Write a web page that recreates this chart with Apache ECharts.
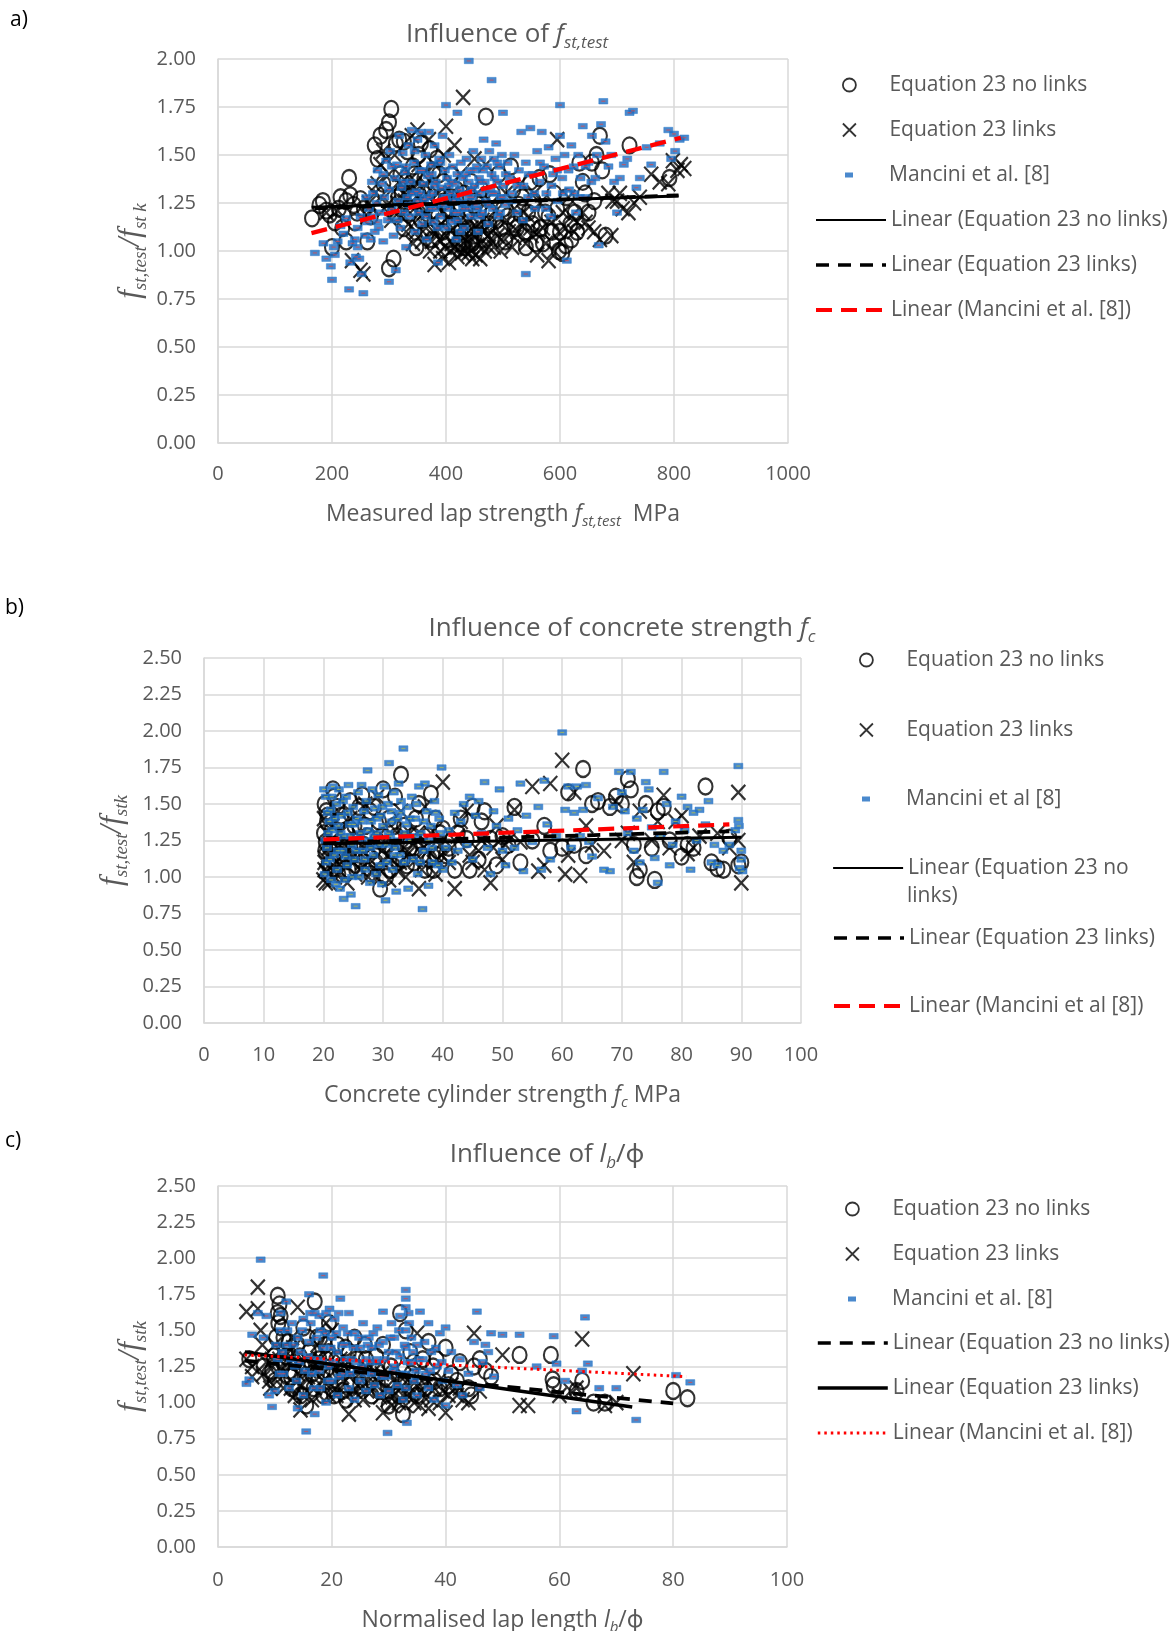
<!DOCTYPE html>
<html><head><meta charset="utf-8">
<script src="https://cdn.jsdelivr.net/npm/echarts@6/dist/echarts.min.js"></script>
<style>html,body{margin:0;padding:0;background:#fff}#c{width:1175px;height:1631px}</style>
</head><body><div id="c"></div>
<script>
// ---------- Panel a: influence of f_st,test ----------
const fstCircles = [[165,1.17],[178,1.24],[184,1.26],[190,1.21],[196,1.19],[200,1.02],[205,1.15],[212,1.22],[218,1.12],[225,1.26],[230,1.38],[232,1.29],[238,1.24],[244,1.20],[250,1.27],[256,1.22],[262,1.05],[268,1.18],[275,1.55],[280,1.48],[285,1.60],[290,1.35],[295,1.63],[300,1.67],[304,1.74],[300,0.91],[308,0.96],[312,1.56],[318,1.58],[322,1.30],[326,1.57],[332,1.52],[338,1.20],[342,1.44],[348,1.02],[352,1.50],[356,1.56],[362,1.38],[368,1.10],[372,1.53],[378,1.42],[384,1.48],[390,1.28],[396,1.36],[402,1.22],[410,1.40],[418,1.32],[426,1.10],[434,1.18],[442,1.28],[450,1.08],[458,1.22],[470,1.70],[476,1.14],[486,1.26],[496,1.12],[508,1.18],[518,1.32],[528,1.24],[538,1.10],[548,1.36],[558,1.04],[566,1.12],[574,1.20],[582,1.40],[590,1.30],[598,1.00],[604,0.99],[610,1.03],[618,1.14],[626,1.20],[634,1.46],[644,1.30],[656,1.46],[664,1.50],[670,1.60],[674,1.42],[680,1.08],[722,1.55],[792,1.38],
[310,1.20],[316,1.28],[326,1.12],[336,1.30],[346,1.26],[356,1.16],[366,1.24],[376,1.06],[386,1.18],[394,1.10],[404,1.06],[414,1.14],[422,1.04],[430,1.02],[438,1.12],[446,1.04],[456,1.16],[466,1.06],[482,1.30],[492,1.40],[504,1.05],[514,1.44],[524,1.12],[534,1.28],[544,1.20],[554,1.26],[564,1.38],[580,1.18],[595,1.22],[612,1.28],[630,1.10],[650,1.20],
[320,1.40],[330,1.36],[345,1.40],[360,1.30],[374,1.32],[388,1.40],[398,1.26],[408,1.28],[420,1.20],[432,1.30],[444,1.36],[452,1.26],[462,1.32],[472,1.20],[488,1.16],[500,1.22],[520,1.14],[540,1.02],[552,1.14],[570,1.04],[586,1.10],[600,1.10],[620,1.06],[640,1.36],[660,1.26],[240,1.15],[225,1.05],[215,1.28]];
const fstCrosses = [[190,1.20],[210,1.21],[235,0.95],[250,0.90],[255,0.88],[265,1.25],[275,1.30],[285,1.45],[290,1.52],[295,1.48],[300,1.40],[305,1.32],[310,1.50],[315,1.25],[320,1.35],[325,1.30],[330,1.22],[335,1.28],[340,1.60],[345,1.33],[350,1.63],[355,1.18],[360,1.25],[365,1.12],[370,1.58],[375,1.05],[380,0.93],[385,1.10],[390,1.00],[395,0.96],[400,1.65],[400,1.08],[405,0.94],[410,1.04],[415,1.55],[420,0.97],[425,1.02],[430,1.80],[435,1.06],[440,0.99],[445,1.12],[450,1.48],[455,1.03],[460,0.96],[465,1.10],[470,1.45],[475,1.02],[480,1.15],[490,1.08],[500,1.05],[510,1.10],[520,1.07],[530,1.14],[540,1.04],[550,1.08],[560,0.98],[570,1.12],[580,0.95],[590,1.00],[595,1.58],[600,1.05],[610,1.12],[620,1.18],[630,1.15],[640,1.20],[650,1.12],[660,1.10],[670,1.06],[690,1.08],[700,1.26],[705,1.30],[710,1.22],[720,1.20],[730,1.25],[740,1.28],[760,1.40],[775,1.36],[790,1.35],[798,1.47],[806,1.42],[812,1.45],[818,1.43],
[322,1.18],[328,1.26],[334,1.14],[338,1.32],[344,1.22],[348,1.10],[352,1.28],[358,1.05],[362,1.20],[366,1.30],[372,1.00],[376,1.16],[382,1.24],[388,1.06],[392,1.14],[398,1.02],[404,1.18],[408,1.00],[412,1.12],[418,1.08],[424,1.15],[428,0.99],[432,1.10],[438,1.04],[444,1.00],[448,1.08],[452,0.98],[458,1.14],[462,1.04],[468,1.00],[472,1.12],[478,1.06],[484,1.02],[300,1.25],[310,1.20],[285,1.28],[270,1.22],[262,1.18],[340,1.38],[360,1.40],[386,1.30],[414,1.28],[436,1.22],[520,1.22],[545,1.18],[555,1.30],[565,1.25],[585,1.15],[615,1.28],[625,1.10],[645,1.15],[685,1.30],[692,1.26],
[330,1.10],[342,1.04],[354,1.12],[368,1.20],[378,1.10],[394,1.20],[402,1.26],[416,1.02],[422,1.20],[426,1.12],[434,1.00],[442,1.16],[446,0.96],[454,1.08],[464,1.16],[474,1.08],[486,1.12],[496,1.00],[506,1.16],[516,1.02],[526,1.10],[536,1.20],[548,1.12],[562,1.10],[575,1.04],[598,1.10],[605,1.20],[280,1.35],[292,1.22],[304,1.16],[318,1.40],[352,1.45],[364,1.35],[380,1.45],[396,1.50],[410,1.30],[425,1.40],[455,1.30],[480,1.25],[505,1.30],[530,1.35]];
const fstMancini = [[170,0.99],[185,1.04],[190,0.96],[198,0.92],[200,0.85],[203,1.02],[205,0.98],[210,1.05],[215,1.13],[220,1.09],[225,1.17],[230,0.80],[232,0.94],[236,1.04],[240,1.06],[242,0.97],[245,1.12],[248,0.96],[252,0.88],[255,0.78],[258,1.08],[262,1.15],[265,1.22],[268,1.06],[270,1.18],[272,1.30],[275,1.10],[278,1.25],[280,1.42],[282,1.12],[285,1.20],[288,1.35],[290,1.05],[292,1.28],[295,1.47],[298,1.16],[300,0.84],[300,1.32],[302,1.52],[305,1.22],[308,1.08],[310,1.38],[312,0.90],[314,1.45],[316,1.26],[318,1.60],[320,1.12],[322,1.33],[324,1.51],[326,1.20],[328,1.41],[330,1.02],[332,1.28],[334,1.55],[336,1.18],[338,1.36],[340,1.63],[342,1.24],[344,1.46],[346,1.10],[348,1.31],[350,1.58],[352,1.20],[354,1.42],[356,1.62],[358,1.14],[360,1.35],[362,1.27],[364,1.50],[366,1.06],[368,1.39],[370,1.62],[372,1.22],[374,1.45],[376,1.30],[378,1.15],[380,1.55],[382,1.36],[384,1.25],[386,0.94],[388,1.48],[390,1.18],[392,1.33],[394,1.60],[396,1.28],[398,1.42],[400,1.76],[400,1.12],[402,1.38],[404,1.22],[406,1.50],[408,1.30],[410,1.15],[412,1.44],[414,1.26],[416,1.35],[418,1.06],[420,1.72],[420,1.40],[422,1.20],[424,1.32],[426,1.46],[428,1.25],[430,1.38],[432,1.12],[434,1.30],[436,1.48],[438,1.22],[440,1.99],[440,1.36],[442,1.42],[444,1.18],[446,1.28],[448,1.52],[450,1.34],[452,1.24],[454,1.44],[456,1.10],[458,1.38],[460,1.30],[462,1.48],[464,1.20],[466,1.58],[468,1.36],[470,1.26],[472,1.44],[474,1.14],[476,1.52],[478,1.32],[480,1.89],[480,1.40],[482,1.22],[484,1.48],[486,1.30],[488,1.56],[490,1.36],[492,1.18],[494,1.44],[496,1.28],[498,1.50],[500,1.72],[500,1.34],[504,1.24],[508,1.46],[512,1.38],[516,1.30],[520,1.50],[524,1.20],[528,1.42],[532,1.62],[536,1.34],[540,0.88],[540,1.46],[544,1.28],[548,1.64],[552,1.40],[556,1.22],[560,1.52],[564,1.36],[568,1.62],[572,1.44],[576,1.30],[580,1.54],[584,1.18],[588,1.40],[592,1.48],[596,1.26],[600,1.76],[600,1.60],[604,1.38],[608,1.50],[612,0.95],[616,1.32],[620,1.55],[624,1.44],[628,1.20],[632,1.50],[636,1.38],[640,1.65],[644,1.28],[650,1.46],[656,1.60],[662,1.38],[668,1.03],[672,1.66],[676,1.78],[680,1.57],[690,1.50],[700,1.20],[705,1.38],[712,1.45],[718,1.48],[722,1.72],[728,1.73],[734,1.33],[740,1.38],[752,1.54],[760,1.45],[775,1.56],[790,1.63],[795,1.48],[800,1.61],[802,1.52],[810,1.58],[818,1.59],
[305,1.44],[315,1.16],[325,1.36],[335,1.24],[345,1.52],[355,1.30],[365,1.18],[375,1.40],[385,1.12],[395,1.24],[405,1.34],[415,1.20],[425,1.10],[435,1.40],[445,1.32],[455,1.22],[465,1.42],[475,1.24],[485,1.38],[495,1.20],[505,1.40],[515,1.26],[525,1.34],[535,1.16],[545,1.40],[555,1.30],[565,1.46],[575,1.22],[585,1.34],[595,1.42],[605,1.30],[615,1.42],[625,1.30],[635,1.28],[645,1.44],[655,1.36],[665,1.50],[685,1.44],[695,1.36],[340,1.30],[350,1.26],[360,1.42],[370,1.28],[380,1.22],[390,1.46],[400,1.28],[410,1.36],[420,1.28],[430,1.22],[440,1.28],[450,1.42],[460,1.36],[470,1.32],[480,1.30],[490,1.46],[500,1.28],[380,1.34],[420,1.16],[460,1.18],[330,1.44],[290,1.40],[280,1.15],[270,1.36],[260,1.28],[250,1.18],[245,1.02]];
const fstTrendNoLinks = [[164,1.228],[808,1.286]];
const fstTrendLinks = [[170,1.222],[808,1.29]];
const fstTrendMancini = [[164,1.093],[812,1.59]];

// ---------- Panel b: influence of concrete strength f_c ----------
const fcCircles = [[20.2,1.50],[20.5,1.45],[20.6,1.38],[21,1.20],[21.2,1.08],[21.6,1.60],[21.8,1.55],[22,1.28],[22.5,1.02],[23,1.42],[23.5,1.12],[24,1.30],[24.5,1.52],[25,1.22],[25.5,1.05],[26,1.48],[26.5,1.56],[27,1.35],[27.5,1.15],[28,1.02],[28.5,1.48],[29,1.25],[29.5,0.92],[30,1.60],[30.5,1.00],[31,1.40],[31.5,1.18],[32,1.55],[32.5,1.10],[33,1.70],[33.5,1.35],[34,1.08],[35,1.28],[36,1.50],[37,1.05],[38,1.57],[39,1.15],[40,1.33],[41,1.20],[42,1.05],[43,1.40],[44,1.26],[45,1.48],[46,1.12],[47,1.45],[48,1.26],[49,1.08],[50,1.28],[51,1.22],[52,1.48],[53,1.10],[55,1.25],[57,1.35],[58,1.18],[60,1.20],[61,1.58],[62,1.22],[63.5,1.74],[64,1.15],[65,1.50],[66,1.52],[68,1.48],[69,1.55],[70,1.50],[71,1.67],[71.5,1.60],[72,1.22],[72.5,1.00],[73,1.05],[74,1.50],[75,1.20],[75.5,0.98],[76,1.45],[77,1.48],[78,1.25],[80,1.14],[81,1.22],[82,1.20],[84,1.62],[85,1.10],[86,1.06],[87,1.05],[88,1.27],[89.5,1.08],[90,1.10],
[20.1,1.30],[20.3,1.18],[20.7,1.42],[21.4,1.32],[22.3,1.48],[22.8,1.15],[23.3,1.22],[24.2,1.05],[25.2,1.35],[25.8,1.45],[26.3,1.12],[27.3,1.28],[28.3,1.18],[29.3,1.38],[30.3,1.22],[31.3,1.05],[32.3,1.28],[33.3,1.12],[34.5,1.20],[35.5,1.40],[36.5,1.15],[37.5,1.28],[38.5,1.05],[39.5,1.30],
[20.4,1.24],[20.9,1.08],[21.7,1.22],[22.6,1.38],[23.8,1.32],[24.8,1.15],[26.8,1.22],[27.8,1.45],[28.8,1.10],[29.8,1.28],[31.8,1.35],[33.8,1.25],[35.2,1.10],[36.2,1.25],[37.8,1.12],[38.8,1.40],[40.5,1.15],[42.5,1.30],[44.5,1.05],[46.5,1.38]];
const fcCrosses = [[20,0.98],[20.2,1.05],[20.5,1.12],[21,0.96],[21.5,1.35],[22,1.18],[22.5,1.45],[23,1.03],[23.5,1.22],[24,0.96],[24.5,1.40],[25,1.10],[26,1.28],[27,1.50],[27.5,1.00],[28,1.20],[29,1.55],[29.5,1.05],[30,1.10],[31,0.98],[32,1.32],[33,1.45],[34,1.15],[35,1.22],[36,0.92],[37,1.48],[38,1.30],[39,1.12],[40,1.65],[41,1.10],[42,0.92],[43,1.38],[44,1.45],[45,1.10],[46,1.18],[47,1.05],[48,0.96],[49,1.35],[50,1.12],[51,1.25],[52,1.46],[53,1.24],[55,1.62],[56,1.04],[57,1.08],[58,1.64],[60,1.80],[60.5,1.02],[61,1.15],[62,1.58],[63,1.01],[64,1.35],[65,1.22],[67,1.18],[69,1.52],[70,1.25],[71,1.30],[72,1.10],[73,1.45],[75,1.25],[76,1.38],[77,1.56],[78,1.20],[79,1.38],[80,1.42],[81,1.16],[82,1.20],[83,1.28],[86,1.30],[88,1.20],[89.5,1.58],[89.5,1.25],[90,0.96],
[20.3,1.22],[20.6,1.30],[20.8,1.15],[21.2,1.25],[21.6,1.08],[22.2,1.02],[22.8,1.30],[23.3,1.15],[23.8,1.08],[24.3,1.20],[25.3,1.02],[25.8,1.18],[26.5,1.10],[27.2,1.22],[28.5,1.06],[29.8,1.18],[30.5,1.25],[31.5,1.12],[32.5,1.04],[33.5,1.20],[34.5,1.30],[35.5,1.12],[36.5,1.05],[37.5,1.18],[38.5,1.10],[39.5,1.22],[20.1,1.40],[20.4,0.96],
[20.2,1.10],[20.5,1.04],[20.9,1.20],[21.4,1.14],[21.9,1.00],[22.6,1.22],[23.1,1.10],[24.6,1.15],[25.6,1.25],[26.2,1.05],[27.8,1.12],[28.8,1.00],[29.2,1.28],[30.8,1.15],[31.8,1.22],[32.8,1.10],[33.8,1.00],[35.8,1.30],[36.8,1.20],[38.8,1.02],[39.8,1.15],[41.5,1.20],[42.5,1.28],[44.5,1.15],[46.5,1.25],[48.5,1.20],[50.5,1.22]];
const fcMancini = [[20.2,1.02],[20.5,1.10],[20.6,1.20],[20.8,1.30],[21,1.38],[21.2,1.46],[21.4,1.55],[21.6,1.62],[21.8,1.15],[22,1.25],[22.2,1.50],[22.3,1.05],[22.5,1.35],[22.6,1.60],[22.8,0.92],[23,1.42],[23.2,1.18],[23.4,0.85],[23.5,1.28],[23.8,1.55],[24,1.08],[24.2,1.63],[24.4,1.36],[24.6,0.88],[24.8,1.22],[25,1.48],[25.2,1.12],[25.4,0.80],[25.6,1.40],[25.8,1.58],[26,1.00],[26.2,1.30],[26.4,1.63],[26.6,1.18],[26.8,1.45],[27,1.05],[27.2,1.52],[27.4,1.73],[27.6,1.25],[27.8,0.96],[28,1.38],[28.2,1.60],[28.4,1.15],[28.6,1.47],[28.8,1.02],[29,1.30],[29.2,1.56],[29.4,1.22],[29.6,1.42],[29.8,0.95],[30,1.35],[30.2,1.62],[30.4,0.84],[30.6,1.10],[30.8,1.50],[31,1.78],[31.2,1.28],[31.4,1.45],[31.6,1.05],[31.8,1.58],[32,1.20],[32.2,0.90],[32.4,1.40],[32.6,1.64],[32.8,1.15],[33,1.52],[33.4,1.88],[33.6,1.30],[34,1.48],[34.2,0.92],[34.5,1.25],[34.8,1.55],[35,1.12],[35.4,1.40],[35.8,1.02],[36,1.62],[36.3,1.30],[36.6,0.78],[36.8,1.18],[37,1.64],[37.3,1.45],[37.6,0.94],[38,1.35],[38.3,1.10],[38.6,1.52],[39,1.25],[39.4,1.40],[39.8,1.75],[40,1.05],[40.5,1.20],[41,1.32],[41.5,1.10],[42,1.44],[42.5,1.18],[43,1.38],[43.5,1.50],[44,1.22],[44.5,1.55],[45,1.12],[45.5,1.42],[46,1.52],[46.5,1.30],[47,1.65],[47.5,1.20],[48,1.02],[48.5,1.45],[49,1.35],[49.5,1.60],[50,1.18],[50.5,1.08],[51,1.40],[52,1.20],[52.5,1.32],[53,1.64],[53.5,1.04],[54,1.42],[55,1.24],[56,1.48],[56.5,1.05],[57,1.66],[57.5,1.36],[58,1.12],[59,1.28],[60,1.99],[60.5,1.46],[61,1.62],[61.5,1.20],[62,1.44],[62.5,1.62],[63,1.28],[63.5,1.46],[64,1.63],[64.5,1.24],[65,1.14],[66,1.54],[67,1.05],[68,1.04],[68.5,1.48],[69.5,1.72],[70,1.58],[70.5,1.45],[71,1.30],[71.5,1.72],[72,1.18],[72.5,1.40],[73,1.10],[73.5,1.46],[74,1.65],[74.5,1.60],[75,1.34],[75.5,1.13],[76,0.96],[76.5,1.28],[77,1.72],[77.5,1.50],[78,1.08],[78.5,1.22],[79,1.38],[80,1.55],[80.5,1.32],[81,1.48],[81.5,1.05],[82,1.44],[82.5,1.25],[83,1.46],[84,1.36],[84.5,1.52],[85,1.10],[85.5,1.22],[86,1.08],[87,1.18],[88,1.22],[89,1.32],[89.5,1.76],[89.5,1.39],[89.6,1.35],[90,1.18],[90,1.12],[90.2,1.04],[89.7,1.06],
[20.3,1.25],[20.7,1.44],[21.1,1.12],[21.5,1.32],[21.9,1.40],[22.4,1.18],[22.9,1.30],[23.3,1.52],[23.7,1.14],[24.1,1.44],[24.5,1.28],[25.1,1.36],[25.5,1.18],[25.9,1.26],[26.5,1.38],[26.9,1.12],[27.5,1.32],[27.9,1.20],[28.5,1.28],[28.9,1.40],[29.5,1.08],[29.9,1.48],[30.5,1.22],[30.9,1.30],[31.5,1.38],[31.9,1.15],[32.5,1.25],[32.9,1.44],[33.5,1.10],[33.9,1.36],[34.5,1.40],[35.2,1.28],[35.6,1.50],[36.2,1.10],[36.8,1.38],[37.5,1.25],[38.2,1.20],[38.8,1.44],[39.2,1.08],[39.6,1.30],[20.1,1.60],[20.4,1.55],[21.3,0.98],[22.1,0.95],[23.6,0.98],[24.8,1.00]];
const fcTrendNoLinks = [[20,1.227],[90,1.273]];
const fcTrendLinks = [[20,1.235],[88,1.313]];
const fcTrendMancini = [[20,1.257],[88,1.36]];

// ---------- Panel c: influence of l_b/phi ----------
const lbCircles = [[5.5,1.30],[8,1.25],[9,1.20],[10,1.15],[10.5,1.74],[10.8,1.68],[11,1.60],[11.2,1.52],[11.5,1.45],[12,1.32],[12.5,1.22],[13,1.10],[13.5,1.28],[14,1.40],[14.5,1.05],[15,1.52],[15.5,0.98],[16,1.35],[16.5,1.20],[17,1.70],[17.5,1.15],[18,1.45],[18.5,1.05],[19,1.30],[19.5,1.55],[20,1.10],[21,1.40],[22,1.25],[22.5,1.02],[23,1.35],[24,1.45],[25,1.12],[26,1.30],[27,1.05],[28,1.22],[29,1.40],[30,0.98],[30.5,1.15],[31,1.30],[32,1.62],[32.5,0.92],[33,1.50],[34,1.20],[35,1.05],[36,1.30],[37,1.42],[38,1.15],[39,1.10],[40,1.38],[41,1.20],[42,1.15],[44,1.10],[45,1.25],[46,1.30],[47,1.22],[48,1.18],[53,1.33],[58.5,1.33],[58.8,1.16],[59,1.12],[63,1.08],[64,1.15],[66,1.00],[68,1.00],[80,1.08],[82.5,1.03],
[9.5,1.22],[10.2,1.45],[10.5,1.62],[11.8,1.35],[12.8,1.18],[13.8,1.08],[14.8,1.25],[15.8,1.45],[16.8,1.10],[17.8,1.30],[18.8,1.40],[19.8,1.18],[20.8,1.30],[21.8,1.08],[23.8,1.25],[25.8,1.40],[27.8,1.32],[29.8,1.12],[31.8,1.05],[33.8,1.35],[35.8,1.18],[37.8,1.25],[42.5,1.28],[44.5,1.05],
[9.8,1.32],[10.6,1.55],[11.4,1.28],[12.4,1.42],[13.4,1.20],[14.4,1.32],[15.4,1.15],[16.4,1.28],[17.4,1.45],[18.4,1.22],[19.4,1.35],[20.4,1.05],[21.4,1.22],[22.4,1.38],[23.4,1.12],[24.4,1.30],[26.4,1.18],[28.4,1.08],[30.4,1.25],[32.4,1.15],[34.4,1.28],[36.4,1.10],[38.4,1.30],[40.5,1.12]];
const lbCrosses = [[5,1.63],[5,1.30],[6,1.18],[7,1.80],[7,1.65],[7.5,1.50],[8,1.20],[9,1.15],[10,1.40],[11,1.25],[12,1.35],[13,1.45],[14,1.66],[14.5,0.95],[15,1.05],[16,1.22],[17,1.10],[18,1.30],[19,1.55],[19.5,1.05],[20,1.50],[21,1.08],[22,1.15],[23,0.92],[24,1.02],[25,1.10],[26,1.25],[27,1.08],[28,1.15],[29,0.93],[30,1.20],[31,1.05],[32,1.10],[33,0.98],[34,1.08],[35,1.48],[35.5,0.98],[36,1.05],[37,0.96],[38,1.10],[39,1.00],[40,0.93],[41,1.12],[42,1.05],[43,1.02],[44,1.00],[45,1.48],[46,1.08],[50,1.33],[53,0.98],[54.5,0.98],[60,1.05],[62,1.08],[63,1.10],[64,1.44],[68,0.98],[70,1.00],[73,1.20],
[9.5,1.30],[10.5,1.18],[11.5,1.10],[12.5,1.28],[13.5,1.05],[14,1.20],[15.5,1.30],[16.5,1.02],[17.5,1.40],[18.5,1.15],[20.5,1.22],[21.5,1.30],[22.5,1.05],[23.5,1.20],[24.5,1.12],[25.5,1.02],[26.5,1.15],[27.5,1.22],[28.5,1.04],[29.5,1.10],[30.5,0.98],[31.5,1.15],[32.5,1.05],[33.5,1.12],[34.5,1.00],[36.5,1.12],[37.5,1.02],[39.5,1.08],[6,1.25],[8.5,1.28],
[10.8,1.30],[11.8,1.20],[12.8,1.10],[13.2,1.38],[14.8,1.12],[15.8,1.18],[16.8,1.28],[17.8,1.05],[18.8,1.22],[19.8,1.12],[20.8,1.05],[21.8,1.18],[22.8,1.28],[23.8,1.08],[24.8,1.20],[26.2,1.08],[27.8,1.12],[28.8,1.20],[29.8,1.02],[30.8,1.08],[31.8,1.00],[32.8,1.18],[33.8,1.05],[34.8,1.15],[35.8,1.08],[38.8,1.15],[40.5,1.05],[42.5,1.10],[7.8,1.40],[9.2,1.10]];
const lbMancini = [[5,1.13],[5.5,1.16],[6,1.47],[7,1.62],[7.5,1.99],[8,1.45],[8.5,1.60],[9,1.05],[9.5,0.97],[10,1.08],[10.5,1.30],[11,1.50],[11,1.62],[11.5,1.20],[12,1.40],[12,1.70],[12.5,1.10],[13,1.55],[13.5,1.25],[14,1.45],[14,0.96],[14.5,1.35],[15,1.58],[15,1.05],[15.5,0.80],[16,1.75],[16,1.42],[16.5,1.20],[17,1.62],[17,0.92],[17.5,1.30],[18,1.50],[18,1.10],[18.5,1.88],[18.5,1.38],[19,1.62],[19,1.00],[19.5,1.25],[20,1.45],[20,1.15],[20.5,1.58],[21,1.35],[21,1.05],[21.5,1.72],[22,1.52],[22,1.20],[22.5,1.40],[23,1.62],[23,1.10],[23.5,1.30],[24,1.48],[24,1.02],[24.5,1.22],[25,1.38],[25,1.15],[25.5,1.55],[26,1.30],[26,1.08],[26.5,1.45],[27,1.20],[27,1.38],[27.5,1.12],[28,1.52],[28,1.28],[28.5,1.05],[29,1.42],[29,1.63],[29.5,1.18],[29.8,0.79],[30,1.35],[30,1.08],[30.5,1.55],[31,1.25],[31,1.45],[31.5,1.12],[32,1.60],[32,1.32],[32.5,1.02],[33,1.78],[33,1.72],[33,1.50],[33,1.38],[33,1.20],[33,1.10],[33.2,0.86],[33.5,1.62],[34,1.45],[34,1.28],[34.5,1.15],[35,1.40],[35,1.05],[35.5,1.63],[36,1.30],[36.5,1.20],[37,1.55],[37,1.10],[37.5,1.35],[38,1.02],[38.5,1.25],[39,1.48],[39.5,1.15],[40,1.52],[40,0.98],[40.5,1.22],[41,1.35],[42,1.12],[42.5,1.30],[43,1.05],[44,1.20],[45,1.42],[45.5,1.63],[46,1.10],[46.5,1.28],[47,1.40],[47.5,1.35],[48,1.48],[48.5,1.18],[50,1.47],[53,1.47],[56,1.25],[59,1.46],[59.5,1.27],[61,1.15],[63,0.94],[64,1.22],[64.5,1.59],[65,1.27],[67,1.10],[70,1.10],[73.5,0.88],[80.5,1.19],[83,1.14],
[10.2,1.40],[10.8,1.20],[11.3,1.35],[12.2,1.50],[12.8,1.30],[13.3,1.40],[13.8,1.15],[14.3,1.28],[14.8,1.50],[15.3,1.22],[15.8,1.32],[16.3,1.55],[16.8,1.10],[17.3,1.45],[17.8,1.22],[18.3,1.28],[18.8,1.48],[19.3,1.15],[19.8,1.38],[20.3,1.28],[20.8,1.48],[21.3,1.18],[21.8,1.40],[22.3,1.30],[22.8,1.48],[23.3,1.20],[23.8,1.38],[24.3,1.28],[24.8,1.45],[25.3,1.25],[25.8,1.20],[26.3,1.40],[26.8,1.28],[27.3,1.48],[27.8,1.30],[28.3,1.40],[28.8,1.18],[29.3,1.30],[30.3,1.45],[30.8,1.22],[31.3,1.35],[31.8,1.50],[32.3,1.20],[32.8,1.40],[33.3,1.28],[33.6,1.55],[34.3,1.35],[34.8,1.22],[35.3,1.30],[36.3,1.42],[37.3,1.22],[38.3,1.38],[39.3,1.28],[16.2,1.62],[17.8,1.60],[19.6,1.65],[21.2,1.62],[33,1.66]];
const lbTrendNoLinks = [[4.7,1.29],[80,0.994]];
const lbTrendLinks = [[4.7,1.35],[72.8,0.97]];
const lbTrendMancini = [[4.7,1.33],[82.3,1.18]];

// ---------- tick settings ----------
const yTicksA = {min:0, max:2, interval:0.25};
const yTicksBC = {min:0, max:2.5, interval:0.25};
const xTicksA = {min:0, max:1000, interval:200};
const xTicksB = {min:0, max:100, interval:10};
const xTicksC = {min:0, max:100, interval:20};

// ---------- styling ----------
const SANS = '"Open Sans", "Noto Sans", sans-serif';
const SERIF = '"Liberation Serif", "DejaVu Serif", serif';
const GREY = '#595959';
const GRIDC = '#d9d9d9';
const CROSS = 'path://M0,0L10,10M10,0L0,10';
const MRECT = 'path://M0,0H8V5H0Z';
const hollow = {color:'rgba(0,0,0,0)', borderColor:'#000', borderWidth:2.2};
const hollowLeg = {color:'rgba(0,0,0,0)', borderColor:'#000', borderWidth:1.8};
const mancStyle = {color:'#1d6cc0', borderColor:'#2a7acb', borderWidth:0.6};

const grids = [
  {left:218, top:59, width:570, height:384, outerBoundsMode:'none', containLabel:false},
  {left:204, top:658, width:597, height:365, outerBoundsMode:'none', containLabel:false},
  {left:218, top:1186, width:569, height:361, outerBoundsMode:'none', containLabel:false}
];

const richSans = {
  t:{fontFamily:SANS, fontSize:23, fontWeight:'normal', color:GREY, lineHeight:30},
  i:{fontFamily:SANS, fontStyle:'italic', fontWeight:'normal', fontSize:23, color:GREY, lineHeight:30},
  s:{fontFamily:SANS, fontStyle:'italic', fontWeight:'normal', fontSize:15, color:GREY, verticalAlign:'bottom'}
};
const richTitle = {
  t:{fontFamily:SANS, fontSize:26, fontWeight:'normal', color:GREY, lineHeight:34},
  i:{fontFamily:SANS, fontStyle:'italic', fontWeight:'normal', fontSize:26, color:GREY, lineHeight:34},
  s:{fontFamily:SANS, fontStyle:'italic', fontWeight:'normal', fontSize:17, color:GREY, verticalAlign:'bottom'}
};
const richSerif = {
  i:{fontFamily:SERIF, fontStyle:'italic', fontSize:31, color:GREY, lineHeight:38},
  s:{fontFamily:SERIF, fontStyle:'italic', fontSize:19, color:GREY, verticalAlign:'bottom'}
};

function xAxisOf(idx, ticks, name, margin, gap) {
  return Object.assign({type:'value', gridIndex:idx, name:name, nameLocation:'middle', nameGap:gap,
    nameTextStyle:{rich:richSans},
    axisLine:{show:true, lineStyle:{color:GRIDC, width:1.5}},
    axisTick:{show:false},
    splitLine:{show:true, lineStyle:{color:GRIDC, width:1.5}},
    axisLabel:{color:GREY, fontSize:20, fontFamily:SANS, margin:margin, formatter:v=>String(v)}}, ticks);
}
function yAxisOf(idx, ticks, name) {
  return Object.assign({type:'value', gridIndex:idx, name:name, nameLocation:'middle', nameGap:68, nameRotate:90,
    nameTextStyle:{rich:richSerif},
    axisLine:{show:true, lineStyle:{color:GRIDC, width:1.5}},
    axisTick:{show:false},
    splitLine:{show:true, lineStyle:{color:GRIDC, width:1.5}},
    axisLabel:{color:GREY, fontSize:20, fontFamily:SANS, margin:22, formatter:v=>v.toFixed(2)}}, ticks);
}

function panelSeries(sfx, idx, circ, cross, manc, centre, lines) {
  const s = [];
  s.push({type:'scatter', name:'Equation 23 no links#'+sfx, xAxisIndex:idx, yAxisIndex:idx, data:circ,
    symbol:'circle', symbolSize:[14,16], itemStyle:hollow, silent:true});
  s.push({type:'scatter', name:'Equation 23 links#'+sfx, xAxisIndex:idx, yAxisIndex:idx, data:cross,
    symbol:CROSS, symbolSize:[14,15], itemStyle:hollow, silent:true});
  s.push({type:'scatter', name:lines.mName+'#'+sfx, xAxisIndex:idx, yAxisIndex:idx, data:manc,
    symbol:'rect', symbolSize:[9,5.5], itemStyle:mancStyle, silent:true});
  s.push({type:'scatter', name:'centre#'+sfx, xAxisIndex:idx, yAxisIndex:idx, data:manc,
    symbol:'rect', symbolSize:[4,1.2], itemStyle:{color:centre}, silent:true});
  lines.list.forEach(l => s.push({type:'line', name:l.name+'#'+sfx, xAxisIndex:idx, yAxisIndex:idx,
    data:l.data, symbol:'none', lineStyle:l.style, silent:true, z:3}));
  return s;
}

const solidBlack = {color:'#000', width:3, type:'solid'};
const dashBlack = {color:'#000', width:3.8, type:[13,9], cap:'butt'};
const dashRed = {color:'#ff0000', width:4.2, type:[16,9], cap:'butt'};
const dotRed = {color:'#ff0000', width:3, type:[2.5,4], cap:'butt'};

const series = [].concat(
  panelSeries('a', 0, fstCircles, fstCrosses, fstMancini, '#c8505a', {mName:'Mancini et al. [8]', list:[
    {name:'Linear (Equation 23 no links)', data:fstTrendNoLinks, style:solidBlack},
    {name:'Linear (Equation 23 links)', data:fstTrendLinks, style:dashBlack},
    {name:'Linear (Mancini et al. [8])', data:fstTrendMancini, style:dashRed}]}),
  panelSeries('b', 1, fcCircles, fcCrosses, fcMancini, '#a8b858', {mName:'Mancini et al [8]', list:[
    {name:'Linear (Equation 23 no links)', data:fcTrendNoLinks, style:solidBlack},
    {name:'Linear (Equation 23 links)', data:fcTrendLinks, style:dashBlack},
    {name:'Linear (Mancini et al [8])', data:fcTrendMancini, style:dashRed}]}),
  panelSeries('c', 2, lbCircles, lbCrosses, lbMancini, '#c8505a', {mName:'Mancini et al. [8]', list:[
    {name:'Linear (Equation 23 no links)', data:lbTrendNoLinks, style:dashBlack},
    {name:'Linear (Equation 23 links)', data:lbTrendLinks, style:Object.assign({}, solidBlack, {width:3.5})},
    {name:'Linear (Mancini et al. [8])', data:lbTrendMancini, style:dotRed}]})
);

const legendText = {color:GREY, fontSize:21, fontFamily:SANS, lineHeight:22};
const strip = n => n.replace(/#.*$/, '');
function symLegend(left, top, gap, sfx) {
  return {orient:'vertical', left:left, top:top, padding:0, itemGap:gap, itemWidth:70, itemHeight:13,
    selectedMode:false, symbolKeepAspect:true, textStyle:legendText, formatter:strip,
    data:[{name:'Equation 23 no links#'+sfx, icon:'circle', itemStyle:hollowLeg},
          {name:'Equation 23 links#'+sfx, icon:CROSS, itemStyle:hollowLeg}]};
}
function mancLegend(left, top, sfx, mName) {
  return {orient:'vertical', left:left, top:top, padding:0, itemWidth:70, itemHeight:5,
    selectedMode:false, symbolKeepAspect:true, textStyle:legendText, formatter:strip,
    data:[{name:mName+'#'+sfx, icon:MRECT, itemStyle:{color:'#1d6cc0', borderWidth:0}}]};
}
function lineLegend(left, top, gap, items, fmt) {
  return {orient:'vertical', left:left, top:top, padding:0, itemGap:gap, itemWidth:70, itemHeight:4,
    selectedMode:false, textStyle:legendText, formatter:fmt || strip,
    data:items.map(it => ({name:it[0], lineStyle:it[1], itemStyle:{opacity:0}}))};
}

const legends = [
  symLegend(842, 74, 23, 'a'),
  mancLegend(845, 164, 'a', 'Mancini et al. [8]'),
  lineLegend(814, 209, 23, [['Linear (Equation 23 no links)#a', {width:2.2}], ['Linear (Equation 23 links)#a', {width:3.6}], ['Linear (Mancini et al. [8])#a', {width:4}]]),

  symLegend(859, 649, 48, 'b'),
  mancLegend(862, 788, 'b', 'Mancini et al [8]'),
  lineLegend(832, 857, 0, [['Linear (Equation 23 no links)#b', {width:2.2}]], n => 'Linear (Equation 23 no'),
  lineLegend(832, 927, 46, [['Linear (Equation 23 links)#b', {width:3.6}], ['Linear (Mancini et al [8])#b', {width:4}]]),

  symLegend(845, 1198, 23, 'c'),
  mancLegend(848, 1288, 'c', 'Mancini et al. [8]'),
  lineLegend(816, 1332, 23, [['Linear (Equation 23 no links)#c', {width:3.6}], ['Linear (Equation 23 links)#c', {width:3.6}], ['Linear (Mancini et al. [8])#c', {width:3}]])
];

const titles = [
  {text:'{t|Influence of }{i|f}{s|st,test}', left:502, top:13, textAlign:'center', textStyle:{fontWeight:'normal', rich:richTitle}},
  {text:'{t|Influence of concrete strength }{i|f}{s|c}', left:617, top:607, textAlign:'center', textStyle:{fontWeight:'normal', rich:richTitle}},
  {text:'{t|Influence of }{i|l}{s|b}{t|/ϕ}', left:542, top:1133, textAlign:'center', textStyle:{fontWeight:'normal', rich:richTitle}}
];

const option = {
  animation:false,
  backgroundColor:'#fff',
  title:titles,
  grid:grids,
  legend:legends,
  xAxis:[
    xAxisOf(0, xTicksA, '{t|Measured lap strength }{i|f}{s|st,test}{t|  MPa}', 21, 56),
    xAxisOf(1, xTicksB, '{t|Concrete cylinder strength }{i|f}{s|c}{t| MPa}', 22, 57),
    xAxisOf(2, xTicksC, '{t|Normalised lap length }{i|l}{s|b}{t|/ϕ}', 23, 58)
  ],
  yAxis:[
    yAxisOf(0, yTicksA, '{i|f}{s|st,test}{i|/f}{s|st k}'),
    yAxisOf(1, yTicksBC, '{i|f}{s|st,test}{i|/f}{s|stk}'),
    yAxisOf(2, yTicksBC, '{i|f}{s|st,test}{i|/f}{s|stk}')
  ],
  series:series,
  graphic:[
    {type:'text', left:10, top:10, style:{text:'a)', fontSize:21, fontFamily:SANS, fill:'#000'}},
    {type:'text', left:5, top:598, style:{text:'b)', fontSize:21, fontFamily:SANS, fill:'#000'}},
    {type:'text', left:5, top:1131, style:{text:'c)', fontSize:21, fontFamily:SANS, fill:'#000'}},
    {type:'text', left:907, top:886, style:{text:'links)', fontSize:21, fontFamily:SANS, fill:GREY}}
  ]
};
const chart = echarts.init(document.getElementById('c'));
chart.setOption(option);
</script></body></html>
